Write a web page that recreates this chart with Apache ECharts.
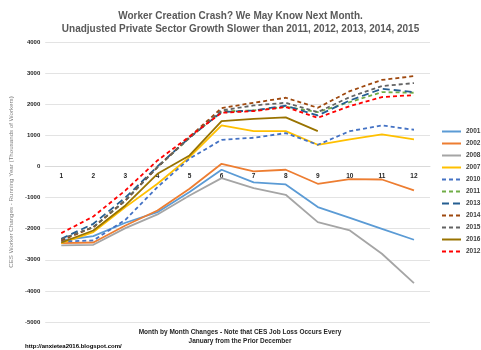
<!DOCTYPE html>
<html>
<head>
<meta charset="utf-8">
<script src="https://cdn.jsdelivr.net/npm/echarts@6/dist/echarts.min.js"></script>
<style>
  html, body { margin: 0; padding: 0; background: #fff; }
  #chart { width: 481px; height: 350px; }
</style>
</head>
<body>
<div id="chart"></div>
<script>
"use strict";

// Months along the category axis
const months = ["1", "2", "3", "4", "5", "6", "7", "8", "9", "10", "11", "12"];

// Running-year CES changes (thousands of workers)
const y2001 = [-2380, -2240, -1810, -1470, -825, -107, -514, -579, -1307, -1650, -2004, -2357];
const y2002 = [-2465, -2444, -1897, -1415, -718, 86, -161, -107, -557, -410, -420, -772];
const y2008 = [-2540, -2518, -1983, -1543, -932, -375, -696, -911, -1790, -2058, -2807, -3752];
const y2007 = [-2465, -2111, -1307, -557, 300, 1318, 1136, 1136, 696, 868, 1029, 868];
const y2010 = [-2412, -2379, -1715, -664, 250, 857, 922, 1072, 696, 1136, 1318, 1179];
const y2011 = [-2347, -1951, -1093, -21, 922, 1768, 1800, 1919, 1747, 2068, 2390, 2369];
const y2013 = [-2325, -1844, -1000, 0, 930, 1747, 1800, 1951, 1640, 2122, 2497, 2390];
const y2014 = [-2380, -1951, -1093, -21, 950, 1876, 2047, 2208, 1886, 2422, 2780, 2904];
const y2015 = [-2336, -1951, -1093, -21, 922, 1800, 1961, 2047, 1747, 2230, 2583, 2679];
const y2016 = [-2444, -2058, -1254, -236, 354, 1457, 1532, 1575, 1136];
const y2012 = [-2144, -1608, -772, 193, 964, 1725, 1779, 1908, 1564, 1940, 2230, 2293];

// Y tick range
const yMin = -5000;
const yMax = 4000;
const yStep = 1000;

const FONT = "Liberation Sans";

// grid box in px; the month labels sit on the zero line, not the bottom
const GRID_TOP = 42;
const GRID_BOTTOM = 28;
const PLOT_H = 350 - GRID_TOP - GRID_BOTTOM;
const zeroOffset = -PLOT_H * (0 - yMin) / (yMax - yMin);

function line(name, data, color, type) {
  return {
    name: name,
    type: "line",
    data: data,
    symbol: "none",
    lineStyle: { color: color, width: 1.8, type: type || "solid" },
    itemStyle: { color: color },
  };
}

const chart = echarts.init(document.getElementById("chart"), null, { renderer: "canvas" });

chart.setOption({
  animation: false,
  backgroundColor: "#ffffff",
  title: [
    {
      text: "Worker Creation Crash? We May Know Next Month.\nUnadjusted Private Sector Growth Slower than 2011, 2012, 2013, 2014, 2015",
      left: "center",
      top: 5,
      textStyle: { fontFamily: FONT, fontSize: 10, fontWeight: "bold", color: "#595959", lineHeight: 13 },
    },
    {
      text: "Month by Month Changes - Note that CES Job Loss Occurs Every\nJanuary from the Prior December",
      left: 235,
      top: 323,
      textAlign: "center",
      textStyle: { fontFamily: FONT, fontSize: 6.5, fontWeight: "bold", color: "#262626", lineHeight: 9 },
    },
    {
      text: "http://anxietea2016.blogspot.com/",
      left: 20,
      top: 338,
      textStyle: { fontFamily: FONT, fontSize: 6, fontWeight: "bold", color: "#000000" },
    },
  ],
  legend: {
    orient: "vertical",
    left: 441,
    top: 128,
    padding: 0,
    itemWidth: 19,
    itemHeight: 7,
    itemGap: 5,
    itemStyle: { opacity: 0 },
    textStyle: { fontFamily: FONT, fontSize: 6.5, fontWeight: "bold", color: "#404040" },
    data: ["2001", "2002", "2008", "2007", "2010", "2011", "2013", "2014", "2015", "2016", "2012"],
  },
  grid: { left: 40, right: 51, top: GRID_TOP, bottom: GRID_BOTTOM, containLabel: false },
  xAxis: {
    type: "category",
    data: months,
    boundaryGap: true,
    position: "bottom",
    offset: zeroOffset,
    axisLine: { onZero: false, lineStyle: { color: "#d9d9d9" } },
    axisTick: { show: false },
    axisLabel: { fontFamily: FONT, fontSize: 6.5, fontWeight: "bold", color: "#262626", margin: 6 },
  },
  yAxis: {
    type: "value",
    min: yMin,
    max: yMax,
    interval: yStep,
    name: "CES Worker Changes - Running Year (Thousands of Workers)",
    nameLocation: "middle",
    nameGap: 27,
    nameTextStyle: { fontFamily: FONT, fontSize: 6.2, color: "#7f7f7f" },
    axisLine: { show: false },
    axisTick: { show: false },
    axisLabel: {
      fontFamily: FONT, fontSize: 6, fontWeight: "bold", color: "#262626", margin: 5,
      formatter: (v) => String(v),
    },
    splitLine: { lineStyle: { color: "#e3e3e3", width: 1 } },
  },
  series: [
    line("2001", y2001, "#5B9BD5"),
    line("2002", y2002, "#ED7D31"),
    line("2008", y2008, "#A5A5A5"),
    line("2007", y2007, "#FFC000"),
    line("2010", y2010, "#4472C4", [4, 3]),
    line("2011", y2011, "#70AD47", [4, 3]),
    line("2013", y2013, "#255E91", [7, 4]),
    line("2014", y2014, "#9E480E", [4, 3]),
    line("2015", y2015, "#636363", [4, 3]),
    line("2016", y2016, "#997300"),
    line("2012", y2012, "#FF0000", [4, 3]),
  ],
});
</script>
</body>
</html>
